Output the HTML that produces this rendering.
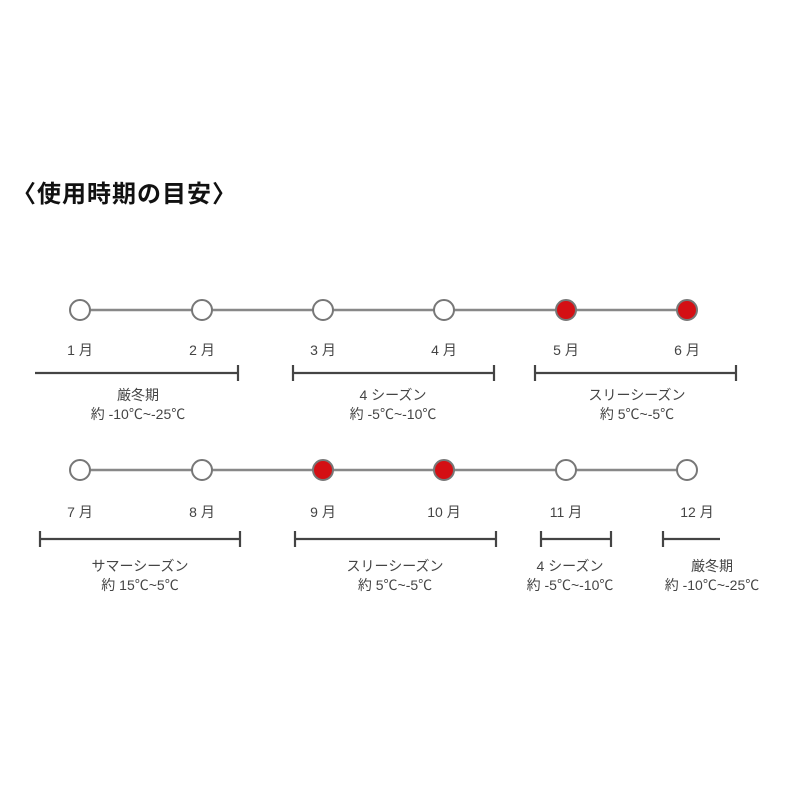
<!DOCTYPE html>
<html><head><meta charset="utf-8"><style>
body{margin:0;background:#fff;width:800px;height:800px;overflow:hidden}
</style></head><body>
<svg width="800" height="800" xmlns="http://www.w3.org/2000/svg" font-family="'Liberation Sans','Noto Sans CJK JP',sans-serif">
<text x="12" y="202" font-size="24" font-weight="bold" fill="#111" letter-spacing="1">〈使用時期の目安〉</text>
<g stroke="#888" stroke-width="2.5">
<line x1="80" y1="310" x2="687" y2="310"/>
<line x1="80" y1="470" x2="687" y2="470"/>
</g>
<g stroke="#777" stroke-width="2">
<circle cx="80" cy="310" r="10" fill="#fff"/><circle cx="202" cy="310" r="10" fill="#fff"/><circle cx="323" cy="310" r="10" fill="#fff"/><circle cx="444" cy="310" r="10" fill="#fff"/><circle cx="566" cy="310" r="10" fill="#d40f14"/><circle cx="687" cy="310" r="10" fill="#d40f14"/>
<circle cx="80" cy="470" r="10" fill="#fff"/><circle cx="202" cy="470" r="10" fill="#fff"/><circle cx="323" cy="470" r="10" fill="#d40f14"/><circle cx="444" cy="470" r="10" fill="#d40f14"/><circle cx="566" cy="470" r="10" fill="#fff"/><circle cx="687" cy="470" r="10" fill="#fff"/>
</g>
<g stroke="#444" stroke-width="2.2">
<path d="M35 373H238M238 365V381"/>
<path d="M293 373H494M293 365V381M494 365V381"/>
<path d="M535 373H736M535 365V381M736 365V381"/>
<path d="M40 539H240M40 531V547M240 531V547"/>
<path d="M295 539H496M295 531V547M496 531V547"/>
<path d="M541 539H611M541 531V547M611 531V547"/>
<path d="M663 539H720M663 531V547"/>
</g>
<g font-size="14" fill="#444" text-anchor="middle">
<text x="80" y="355">1 月</text><text x="202" y="355">2 月</text><text x="323" y="355">3 月</text><text x="444" y="355">4 月</text><text x="566" y="355">5 月</text><text x="687" y="355">6 月</text>
<text x="80" y="517">7 月</text><text x="202" y="517">8 月</text><text x="323" y="517">9 月</text><text x="444" y="517">10 月</text><text x="566" y="517">11 月</text><text x="697" y="517">12 月</text>
<text x="138" y="400">厳冬期</text><text x="138" y="419">約 -10℃~-25℃</text>
<text x="393" y="400">4 シーズン</text><text x="393" y="419">約 -5℃~-10℃</text>
<text x="637" y="400">スリーシーズン</text><text x="637" y="419">約 5℃~-5℃</text>
<text x="140" y="571">サマーシーズン</text><text x="140" y="590">約 15℃~5℃</text>
<text x="395" y="571">スリーシーズン</text><text x="395" y="590">約 5℃~-5℃</text>
<text x="570" y="571">4 シーズン</text><text x="570" y="590">約 -5℃~-10℃</text>
<text x="712" y="571">厳冬期</text><text x="712" y="590">約 -10℃~-25℃</text>
</g>
</svg>
</body></html>
